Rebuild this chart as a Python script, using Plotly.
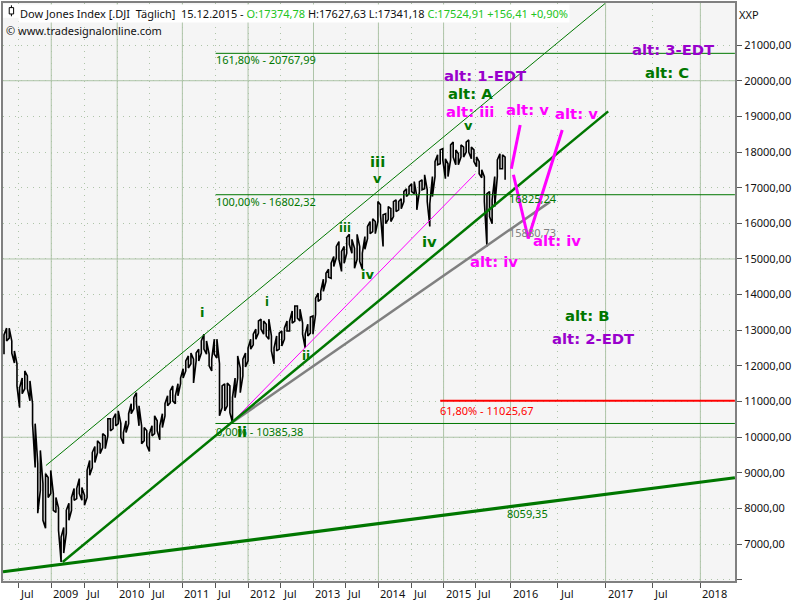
import plotly.graph_objects as go

# price per 10 trading days, x axis counts these periods (chart skips non trading days)
high = [12870, 13060, 13060, 12700, 12420, 12060, 11385, 11660, 11860, 11720,
        11580, 10940, 10380, 9260, 9630, 8700, 8980, 8870, 9070, 8420,
        8310, 8010, 7200, 7470, 7950, 8150, 8310, 8560, 8560, 8840,
        8590, 8370, 9070, 9350, 9570, 9740, 9900, 9820, 10100, 10040,
        10520, 10520, 10520, 10660, 10740, 10380, 10130, 10460, 10660, 10940,
        11110, 11250, 10880, 10320, 10270, 10180, 10100, 10320, 10600, 10460,
        10320, 10660, 10940, 11160, 11300, 11440, 11160, 11500, 11660, 11920,
        12140, 12280, 12360, 12190, 12360, 12470, 12700, 12890, 12700, 12330,
        12190, 12750, 12750, 12060, 11440, 11500, 11520, 11440, 11110, 11660,
        12280, 11940, 12190, 12360, 12500, 12750, 12890, 13030, 13260, 13310,
        13260, 13170, 13310, 12840, 12500, 12840, 12920, 12980, 13060, 13260,
        13260, 13540, 13680, 13680, 13590, 13200, 12890, 13170, 13370, 13400,
        13900, 14040, 14090, 14430, 14600, 14710, 14880, 15070, 15350, 15490,
        15210, 15350, 15600, 15690, 15550, 15300, 15690, 15350, 15160, 15630,
        15910, 16050, 16130, 16050, 16610, 16520, 16240, 16270, 16470, 16410,
        16610, 16660, 16610, 16690, 16890, 16970, 17030, 17110, 17170, 16750,
        17170, 17220, 17360, 16940, 16550, 17310, 17730, 17920, 18060, 18090,
        17810, 17670, 18200, 18280, 18060, 17950, 18200, 18140, 18280, 18340,
        18140, 18060, 17860, 17730, 17500, 17310, 16830, 16890, 16660, 17310,
        17780, 17950, 17920, 17860]
low = [12330, 12700, 12780, 12360, 12080, 11440, 10830, 11220, 11360, 11360,
       11020, 10380, 9150, 7870, 8510, 7670, 7450, 8310, 8420, 7950,
       7890, 7390, 6500, 6750, 7310, 7670, 7950, 8230, 8280, 8420,
       8230, 8090, 8310, 8930, 9150, 9290, 9570, 9540, 9710, 9680,
       10040, 10180, 10240, 10320, 10380, 9990, 9820, 10130, 10380, 10660,
       10800, 10940, 10320, 9820, 9900, 9770, 9600, 10040, 10100, 10180,
       9930, 10270, 10600, 10880, 10970, 11020, 10940, 11160, 11500, 11660,
       11860, 11940, 12060, 11520, 12140, 12140, 12360, 12470, 12330, 12000,
       11860, 12330, 12220, 10600, 10830, 10740, 10880, 10690, 10410, 11110,
       11660, 11250, 11720, 11970, 12140, 12470, 12590, 12750, 12920, 13030,
       12890, 12840, 12750, 12420, 12060, 12420, 12470, 12560, 12750, 12980,
       12980, 13200, 13260, 13340, 13260, 12890, 12500, 12840, 12920, 12890,
       13450, 13810, 13870, 14090, 14370, 14490, 14460, 14790, 15040, 14990,
       14650, 14880, 15160, 15410, 15160, 14740, 14990, 14930, 14710, 15270,
       15570, 15710, 15770, 15710, 16050, 16240, 15350, 15990, 16110, 16050,
       16190, 16330, 16380, 16410, 16610, 16750, 16830, 16890, 16830, 16380,
       16890, 16940, 16970, 16610, 15910, 16750, 17310, 17640, 17670, 17780,
       17250, 17310, 17780, 17860, 17640, 17640, 17860, 17860, 18000, 18000,
       17810, 17730, 17590, 17390, 17280, 16610, 15350, 16190, 15990, 16470,
       17310, 17530, 17530, 17220]

# time axis
tick_bars = [5.5, 18.2, 30.9, 43.6, 55.9, 68.7, 81.4, 94, 106.5, 119.2, 131.5,
             144.2, 156.9, 169.3, 181.5, 195.1, 213.2, 231.7, 249.7, 268.2]
tick_names = ["Jul", "2009", "Jul", "2010", "Jul", "2011", "Jul", "2012", "Jul", "2013", "Jul",
              "2014", "Jul", "2015", "Jul", "2016", "Jul", "2017", "Jul", "2018"]
price_ticks = [6000, 7000, 8000, 9000, 10000, 11000, 12000, 13000, 14000, 15000,
               16000, 17000, 18000, 19000, 20000, 21000]
price_names = ["", "7000,00", "8000,00", "9000,00", "10000,00", "11000,00", "12000,00", "13000,00",
               "14000,00", "15000,00", "16000,00", "17000,00", "18000,00", "19000,00", "20000,00", "21000,00"]
solid_prices = [10000, 15000, 20000]

# drawn trend lines: bars, prices
base_x, base_y = [-0.4, 281.5], [6226, 8863]
support_x, support_y = [22.6, 232.7], [6500, 19140]
channel_x, channel_y = [16.15, 231.5], [9206, 22166]
pink_x, pink_y = [87.7, 181.5], [10407, 17390]
gray_x, gray_y = [87.7, 210.4], [10407, 16608]
alt_v_x, alt_v_y = [195.4, 198.8], [17530, 18758]
alt_iv_x, alt_iv_y = [196.2, 201.9, 215], [17362, 15574, 18619]

# fibonacci levels
fib_starts = [81.5, 81.5, 81.5, 168]
fib_prices = [20767.99, 16802.32, 10385.38, 11025.67]
fib_colors = ["#007700", "#007700", "#007700", "#ff0000"]
fib_widths = [1, 1, 1, 2]
fib_names = ["161,80% - 20767,99", "100,00% - 16802,32", "0,00% - 10385,38", "61,80% - 11025,67"]
fib_name_prices = [20600, 16600, 10150, 10760]

GREEN = "#007700"
PURPLE = "#9900cc"
MAGENTA = "#ff00ff"
GRID = "#aec4a8"

wave_names = ["alt: 3-EDT", "alt: C", "alt: 1-EDT", "alt: A", "alt: iii", "alt: v", "alt: v", "v",
              "alt: iv", "alt: iv", "iv", "alt: B", "alt: 2-EDT", "iii", "v", "iii", "iv", "i", "i", "ii", "ii"]
wave_bars = [257.7, 255.4, 185.4, 179.6, 179.6, 201.5, 220.6, 178.8,
             212.9, 188.8, 163.8, 224.6, 226.9, 143.8, 143.8, 131.5, 140, 76.2, 101.2, 116.5, 91.5]
wave_prices = [20825, 20183, 20099, 19596, 19094, 19150, 19038, 18675,
               15463, 14876, 15435, 13368, 12726, 17669, 17194, 15826, 14513, 13452, 13731, 12223, 10100]
wave_colors = [PURPLE, GREEN, PURPLE, GREEN, MAGENTA, MAGENTA, MAGENTA, GREEN,
               MAGENTA, MAGENTA, GREEN, GREEN, PURPLE, GREEN, GREEN, GREEN, GREEN, GREEN, GREEN, GREEN, GREEN]
wave_sizes = [14.8, 14.8, 14.8, 14.8, 14.8, 14.8, 14.8, 13,
              14.8, 14.8, 14.8, 14.8, 14.8, 14.8, 13, 11.5, 13, 13, 11.5, 12, 14.8]

note_names = ["16825,24", "15880,73", "8059,35"]
note_bars = [194, 194, 193.5]
note_prices = [16690, 15740, 7860]
note_colors = [GREEN, "#808080", GREEN]

price_x = []
price_y = []
for i in range(len(high)):
    price_x += [i, i]
    price_y += [low[i], high[i]] if i % 2 == 0 else [high[i], low[i]]

fig = go.Figure()
fig.add_trace(go.Scatter(x=price_x, y=price_y, mode="lines", line=dict(color="black", width=1.6)))

lines = [(channel_x, channel_y, GREEN, 1), (pink_x, pink_y, MAGENTA, 1), (gray_x, gray_y, "#808080", 2.5),
         (support_x, support_y, GREEN, 2.5), (base_x, base_y, GREEN, 3.2),
         (alt_v_x, alt_v_y, MAGENTA, 3), (alt_iv_x, alt_iv_y, MAGENTA, 3)]
for xs, ys, color, width in lines:
    fig.add_trace(go.Scatter(x=xs, y=ys, mode="lines", line=dict(color=color, width=width)))

for start, price, color, width in zip(fib_starts, fib_prices, fib_colors, fib_widths):
    fig.add_trace(go.Scatter(x=[start, 281.5], y=[price, price], mode="lines", line=dict(color=color, width=width)))

# solid grid lines, the axis grid itself stays dotted
for name, bar in zip(tick_names, tick_bars):
    if name != "Jul":
        fig.add_shape(type="line", xref="x", yref="paper", x0=bar, x1=bar, y0=0, y1=1,
                      line=dict(color=GRID, width=1), layer="below")
for price in solid_prices:
    fig.add_shape(type="line", xref="paper", yref="y", x0=0, x1=1, y0=price, y1=price,
                  line=dict(color=GRID, width=1), layer="below")

small = dict(family="Noto Sans", size=11, color="#111111")

for name, bar in zip(tick_names, tick_bars):
    fig.add_annotation(x=bar, y=0, xref="x", yref="paper", text=name, showarrow=False, font=small,
                       xanchor="left", yanchor="top", xshift=0, yshift=-3)

for name, start, price, color in zip(fib_names, fib_starts, fib_name_prices, fib_colors):
    fig.add_annotation(x=start, y=price, text=name, showarrow=False, xanchor="left", xshift=-2,
                       font=dict(family="Noto Sans", size=11, color=color))

for name, bar, price, color in zip(note_names, note_bars, note_prices, note_colors):
    fig.add_annotation(x=bar, y=price, text=name, showarrow=False, xanchor="left", xshift=-1,
                       font=dict(family="Noto Sans", size=11, color=color))

for name, bar, price, color, size in zip(wave_names, wave_bars, wave_prices, wave_colors, wave_sizes):
    fig.add_annotation(x=bar, y=price, text=name, showarrow=False, yshift=2,
                       font=dict(family="DejaVu Sans", size=size, color=color, weight="bold"))

header = ("Dow Jones Index [.DJI\u00a0\u00a0Täglich]\u00a0\u00a015.12.2015 - "
          "<span style='color:#22c422'>O:17374,78</span> H:17627,63 L:17341,18 "
          "<span style='color:#22c422'>C:17524,91 +156,41 +0,90%</span>")
fig.add_annotation(x=0.0205, y=0.9985, xref="paper", yref="paper", text=header, showarrow=False,
                   xanchor="left", yanchor="top", font=small, bgcolor="white", borderpad=1)
fig.add_annotation(x=0.002, y=0.968, xref="paper", yref="paper", text="© www.tradesignalonline.com",
                   showarrow=False, xanchor="left", yanchor="top", font=small)
fig.add_annotation(x=1, y=1, xref="paper", yref="paper", text="XXP", showarrow=False,
                   xanchor="left", yanchor="top", xshift=2, yshift=-2, font=small)

# little candle symbol in front of the title
fig.add_shape(type="rect", xref="paper", yref="paper", x0=0.0, x1=0.0225, y0=0.9745, y1=0.9985,
              fillcolor="white", line=dict(width=0))
fig.add_shape(type="line", xref="paper", yref="paper", x0=0.0115, x1=0.0115, y0=0.977, y1=0.996,
              line=dict(color="black", width=1))
fig.add_shape(type="rect", xref="paper", yref="paper", x0=0.0085, x1=0.0145, y0=0.981, y1=0.992,
              fillcolor="white", line=dict(color="black", width=1))

fig.update_xaxes(range=[-0.385, 281.54], tickmode="array", tickvals=tick_bars, ticktext=[""] * len(tick_bars),
                 ticks="outside", ticklen=5, tickcolor="#555555", showgrid=True, gridcolor=GRID,
                 griddash="1px,5px", gridwidth=1, zeroline=False,
                 showline=True, mirror=True, linecolor="#808080", linewidth=2)
fig.update_yaxes(range=[5967, 22180], side="right", tickmode="array", tickvals=price_ticks, ticktext=price_names,
                 ticks="outside", ticklen=5, tickcolor="#555555", tickfont=small, showgrid=True, gridcolor=GRID,
                 griddash="1px,5px", gridwidth=1, zeroline=False,
                 showline=True, mirror=True, linecolor="#808080", linewidth=2)
fig.update_layout(width=800, height=600, autosize=False, showlegend=False,
                  margin=dict(l=2, r=65, t=1, b=19, pad=0),
                  plot_bgcolor="#f5f5f5", paper_bgcolor="white")

# the page default margin would push the 800x600 figure out of the window
fig.write_html("out.html", config=dict(displayModeBar=False),
               post_script="document.body.style.margin='0';document.body.style.overflow='hidden';")
